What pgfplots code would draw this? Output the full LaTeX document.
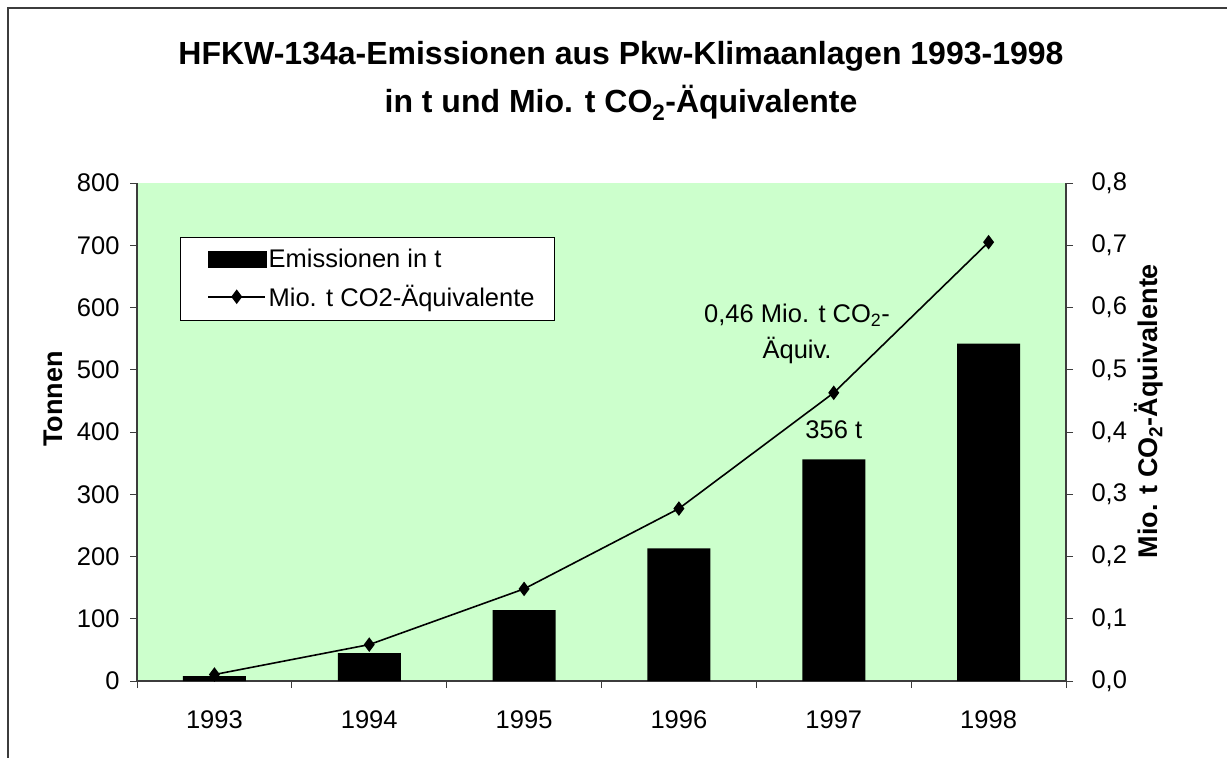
\documentclass[border=0pt]{standalone}
\usepackage{fontspec}
\setmainfont{Liberation Sans}
\usepackage{pgfplots}
\pgfplotsset{compat=1.18}
\definecolor{bggreen}{RGB}{204,255,204}
\definecolor{framegray}{RGB}{60,60,60}
\newcommand{\fs}{\fontsize{25.5bp}{30bp}\selectfont}
\newcommand{\fb}{\fontsize{27bp}{32bp}\selectfont\bfseries}
\begin{document}
\begin{tikzpicture}[x=1bp,y=1bp]
\path[use as bounding box] (0,0) rectangle (1227,-758);
\draw[framegray, line width=1.8bp] (8,-758) -- (8,-8) -- (1227,-8);

\begin{axis}[
  at={(137bp,-681bp)}, anchor=south west,
  scale only axis, width=929bp, height=498bp,
  xmin=-0.5, xmax=5.5, ymin=0, ymax=800,
  axis x line*=bottom, axis y line*=left,
  axis line style={framegray, line width=1.3bp},
  axis background/.style={fill=bggreen},
  tick align=outside, major tick length=7bp,
  tick style={framegray, line width=1bp},
  xtick={-0.5,0.5,1.5,2.5,3.5,4.5,5.5}, xticklabels={},
  extra x ticks={0,1,2,3,4,5},
  extra x tick labels={1993,1994,1995,1996,1997,1998},
  extra x tick style={major tick length=0pt},
  ytick={0,100,200,300,400,500,600,700,800},
  ticklabel style={font=\fs},
  yticklabel style={/pgf/number format/assume math mode=true, xshift=-7bp},
  xticklabel style={yshift=-26bp},
]
\addplot[ybar, bar width=63bp, fill=black, draw=none] coordinates {
(0,8) (1,45) (2,114) (3,213) (4,356) (5,542)};
\node[font=\fs] at (axis cs:4,403) {356 t};
\node[font=\fs, align=center, inner sep=0pt] at (axis cs:3.763,557) {0,46 Mio. t CO\textsubscript{2}-\\[6bp]Äquiv.};
\end{axis}

\begin{axis}[
  at={(137bp,-681bp)}, anchor=south west,
  scale only axis, width=929bp, height=498bp,
  xmin=-0.5, xmax=5.5, ymin=0, ymax=0.8,
  axis x line=none, axis y line*=right,
  axis line style={framegray, line width=1.3bp},
  tick align=outside, major tick length=7bp,
  tick style={framegray, line width=1bp},
  ytick={0,0.1,0.2,0.3,0.4,0.5,0.6,0.7,0.8},
  yticklabel style={font=\fs, xshift=15bp, /pgf/number format/.cd, fixed, fixed zerofill, precision=1, use comma, assume math mode=true},
  legend style={at={(0.0463,0.8916)}, anchor=north west, draw=black, line width=0.8bp, fill=white, font=\fs, inner xsep=18bp, inner ysep=10bp, row sep=12bp, cells={anchor=west}},
]
\addlegendimage{legend image code/.code={\path (0bp,0bp); \fill[black] (9bp,-8bp) rectangle (67bp,8bp);}}
\addlegendentry{Emissionen in t}
\addplot[black, line width=1.6bp, mark=diamond*, mark size=6bp, mark options={solid},
  legend image code/.code={\path (0bp,0bp); \draw[black, line width=1.6bp] (9bp,0bp) -- (66bp,0bp); \draw[black, mark=diamond*, mark size=6bp] plot coordinates {(37.5bp,0bp)};}]
 coordinates {(0,0.0104) (1,0.0585) (2,0.148) (3,0.277) (4,0.463) (5,0.705)};
\addlegendentry{Mio. t CO2-Äquivalente}
\end{axis}

\node[font=\fontsize{32bp}{38bp}\selectfont\bfseries, anchor=base] at (621,-65) {HFKW-134a-Emissionen aus Pkw-Klimaanlagen 1993-1998};
\node[font=\fontsize{32bp}{38bp}\selectfont\bfseries, anchor=base] at (621,-113) {in t und Mio. t CO\textsubscript{2}-Äquivalente};
\node[font=\fb, rotate=90] at (53,-399) {Tonnen};
\node[font=\fb, rotate=90] at (1149,-411) {Mio. t CO\textsubscript{2}-Äquivalente};
\end{tikzpicture}
\end{document}
